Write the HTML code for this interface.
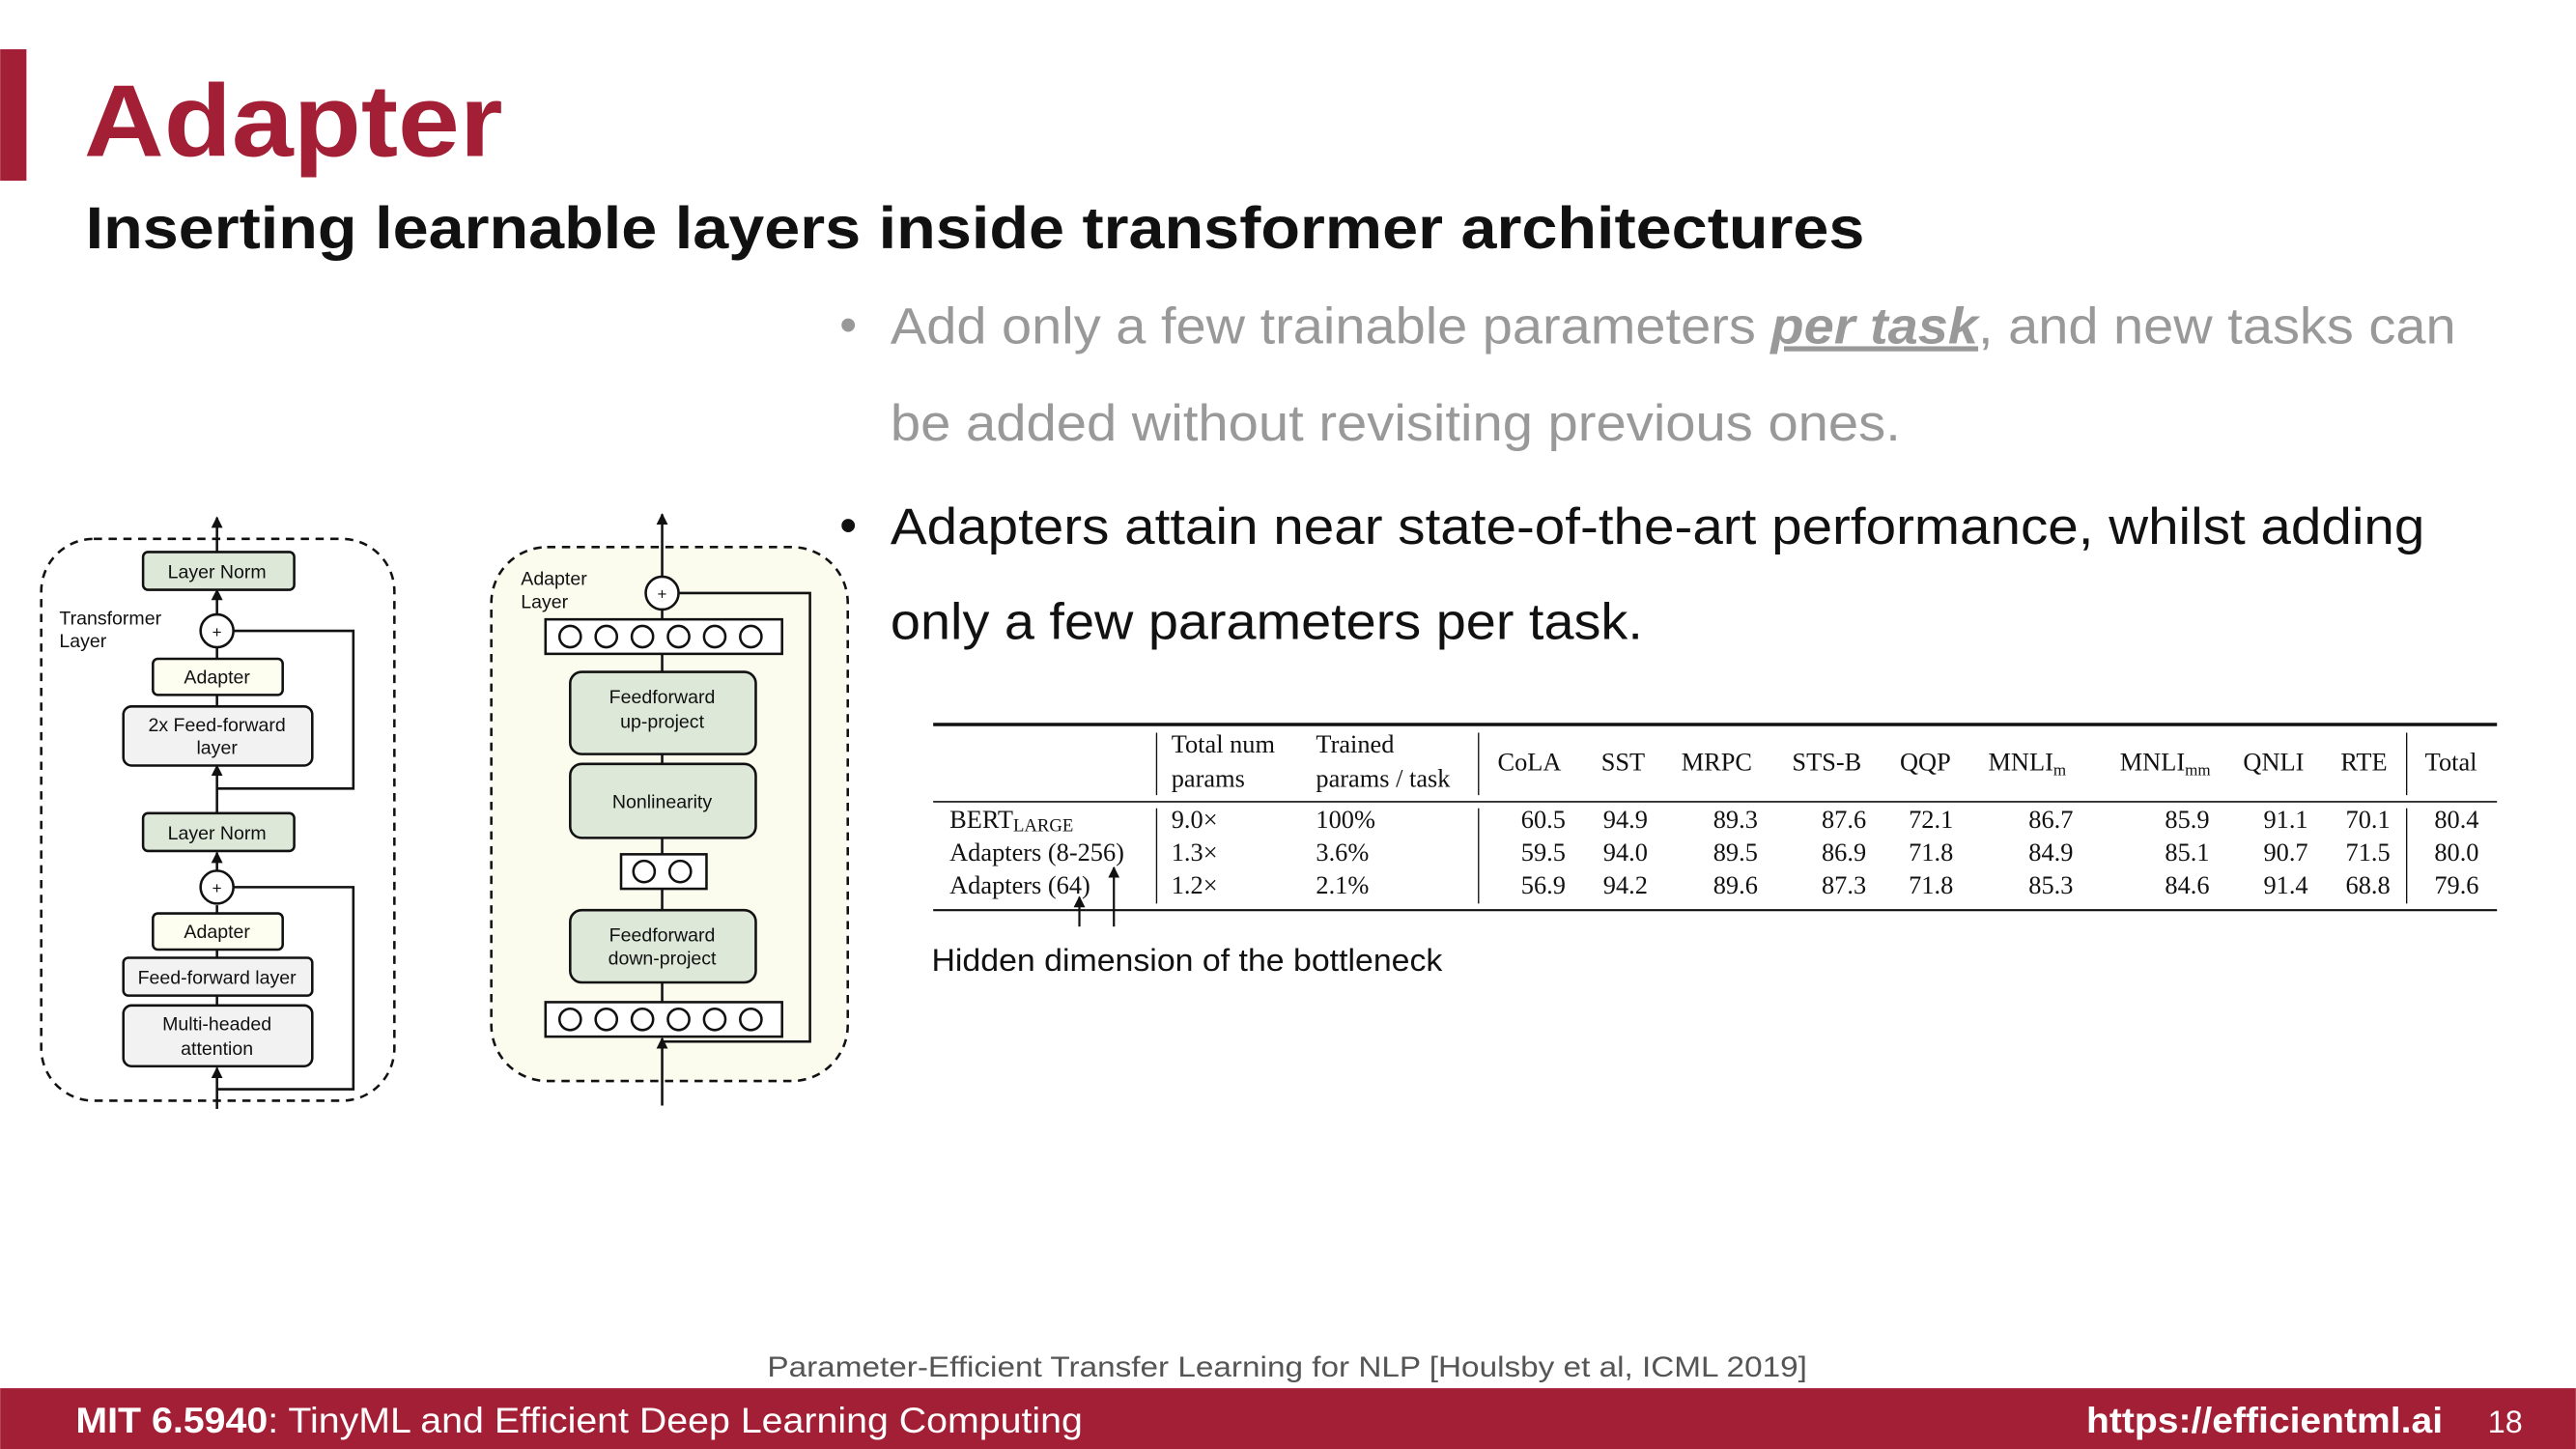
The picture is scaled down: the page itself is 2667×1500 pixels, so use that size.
<!DOCTYPE html>
<html><head><meta charset="utf-8"><style>
html,body{margin:0;padding:0;background:#fff;}
svg{display:block;}
text{font-family:"Liberation Sans",Arial,sans-serif;}
.s,.s text{font-family:"Liberation Serif","Times New Roman",serif;font-size:15.5px;fill:#111;}
.d{font-size:11.5px;fill:#111;}
</style></head><body>
<svg width="2667" height="1500" viewBox="0 0 1568 882" xmlns="http://www.w3.org/2000/svg">
<defs>
<marker id="ah" viewBox="0 0 10 10" refX="9" refY="5" markerWidth="7" markerHeight="7" orient="auto-start-reverse" markerUnits="userSpaceOnUse"><path d="M0,0 L10,5 L0,10 z" fill="#111"/></marker>
</defs>
<rect width="1568" height="882" fill="#fff"/>
<rect x="0" y="30" width="16" height="80" fill="#a31f36"/>
<text x="51" y="95" font-size="62" font-weight="bold" fill="#a31f36" textLength="255" lengthAdjust="spacingAndGlyphs">Adapter</text>
<text x="52" y="151" font-size="36" font-weight="bold" fill="#111" textLength="1083" lengthAdjust="spacingAndGlyphs">Inserting learnable layers inside transformer architectures</text>
<text x="511" y="208" font-size="30" fill="#999">•</text>
<text x="542" y="209" font-size="31" fill="#999" textLength="953" lengthAdjust="spacingAndGlyphs">Add only a few trainable parameters <tspan font-weight="bold" font-style="italic" text-decoration="underline">per task</tspan>, and new tasks can</text>
<text x="542" y="268" font-size="31" fill="#999" textLength="615" lengthAdjust="spacingAndGlyphs">be added without revisiting previous ones.</text>
<text x="511" y="330" font-size="30" fill="#111">•</text>
<text x="542" y="331" font-size="31" fill="#111" textLength="934" lengthAdjust="spacingAndGlyphs">Adapters attain near state-of-the-art performance, whilst adding</text>
<text x="542" y="389" font-size="31" fill="#111" textLength="458" lengthAdjust="spacingAndGlyphs">only a few parameters per task.</text>

<g stroke="#111" stroke-width="1.5" fill="none">
<rect x="25" y="328" width="215" height="342" rx="32" stroke-dasharray="5,4"/>
<line x1="132" y1="675" x2="132" y2="650" marker-end="url(#ah)"/>
<line x1="132" y1="612" x2="132" y2="578"/>
<line x1="132" y1="556" x2="132" y2="551"/>
<line x1="132" y1="530" x2="132" y2="519" marker-end="url(#ah)"/>
<line x1="132" y1="495" x2="132" y2="466" marker-end="url(#ah)" />
<line x1="132" y1="430" x2="132" y2="423"/>
<line x1="132" y1="401" x2="132" y2="394"/>
<line x1="132" y1="374" x2="132" y2="359" marker-end="url(#ah)"/>
<line x1="132" y1="336" x2="132" y2="315" marker-end="url(#ah)"/>
<polyline points="142,384 215,384 215,480 132,480"/>
<polyline points="142,540 215,540 215,663 132,663"/>
</g>
<g stroke="#111" stroke-width="1.5">
<rect x="87" y="336" width="92" height="23" rx="3" fill="#dde8d9"/>
<circle cx="132" cy="384" r="10" fill="#fff"/>
<rect x="93" y="401" width="79" height="22" rx="3" fill="#fdfdf0"/>
<rect x="75" y="430" width="115" height="36" rx="5" fill="#f2f2f2"/>
<rect x="87" y="495" width="92" height="23" rx="3" fill="#dde8d9"/>
<circle cx="132" cy="540" r="10" fill="#fff"/>
<rect x="93" y="556" width="79" height="22" rx="3" fill="#fdfdf0"/>
<rect x="75" y="583" width="115" height="23" rx="3" fill="#f2f2f2"/>
<rect x="75" y="612" width="115" height="37" rx="5" fill="#f2f2f2"/>
</g>
<g class="d" text-anchor="middle">
<text x="132" y="352">Layer Norm</text>
<text x="132" y="388" font-size="10">+</text>
<text x="132" y="416">Adapter</text>
<text x="132" y="445">2x Feed-forward</text>
<text x="132" y="459">layer</text>
<text x="132" y="511">Layer Norm</text>
<text x="132" y="544" font-size="10">+</text>
<text x="132" y="571">Adapter</text>
<text x="132" y="599">Feed-forward layer</text>
<text x="132" y="627">Multi-headed</text>
<text x="132" y="642">attention</text>
</g>
<text class="d" x="36" y="380">Transformer</text>
<text class="d" x="36" y="394">Layer</text>

<rect x="299" y="333" width="217" height="325" rx="34" fill="#fbfcee" stroke="#111" stroke-width="1.5" stroke-dasharray="5,4"/>
<g stroke="#111" stroke-width="1.5" fill="none">
<line x1="403" y1="673" x2="403" y2="632" marker-end="url(#ah)"/>
<line x1="403" y1="610" x2="403" y2="598"/>
<line x1="403" y1="554" x2="403" y2="541"/>
<line x1="403" y1="520" x2="403" y2="510"/>
<line x1="403" y1="465" x2="403" y2="459"/>
<line x1="403" y1="409" x2="403" y2="398"/>
<line x1="403" y1="377" x2="403" y2="371"/>
<line x1="403" y1="351" x2="403" y2="313" marker-end="url(#ah)"/>
<polyline points="413,361 493,361 493,634 403,634"/>
</g>
<g stroke="#111" stroke-width="1.5">
<circle cx="403" cy="361" r="10" fill="#fff"/>
<rect x="332" y="377" width="144" height="21" fill="#fff"/>
<rect x="347" y="409" width="113" height="50" rx="7" fill="#dde8d9"/>
<rect x="347" y="465" width="113" height="45" rx="7" fill="#dde8d9"/>
<rect x="378" y="520" width="52" height="21" fill="#fff"/>
<rect x="347" y="554" width="113" height="44" rx="7" fill="#dde8d9"/>
<rect x="332" y="610" width="144" height="21" fill="#fff"/>
<g fill="#fff">
<circle cx="347" cy="387.5" r="6.5"/><circle cx="369" cy="387.5" r="6.5"/><circle cx="391" cy="387.5" r="6.5"/><circle cx="413" cy="387.5" r="6.5"/><circle cx="435" cy="387.5" r="6.5"/><circle cx="457" cy="387.5" r="6.5"/>
<circle cx="392" cy="530.5" r="6.5"/><circle cx="414" cy="530.5" r="6.5"/>
<circle cx="347" cy="620.5" r="6.5"/><circle cx="369" cy="620.5" r="6.5"/><circle cx="391" cy="620.5" r="6.5"/><circle cx="413" cy="620.5" r="6.5"/><circle cx="435" cy="620.5" r="6.5"/><circle cx="457" cy="620.5" r="6.5"/>
</g>
</g>
<g class="d" text-anchor="middle">
<text x="403" y="365" font-size="10">+</text>
<text x="403" y="428">Feedforward</text>
<text x="403" y="443">up-project</text>
<text x="403" y="492">Nonlinearity</text>
<text x="403" y="573">Feedforward</text>
<text x="403" y="587">down-project</text>
</g>
<text class="d" x="317" y="356">Adapter</text>
<text class="d" x="317" y="370">Layer</text>

<g stroke="#111">
<line x1="568" y1="441" x2="1520" y2="441" stroke-width="2"/>
<line x1="568" y1="488" x2="1520" y2="488" stroke-width="1"/>
<line x1="568" y1="554" x2="1520" y2="554" stroke-width="1.3"/>
<line x1="704" y1="446" x2="704" y2="484" stroke-width="0.8"/>
<line x1="900" y1="446" x2="900" y2="484" stroke-width="0.8"/>
<line x1="1465" y1="446" x2="1465" y2="484" stroke-width="0.8"/>
<line x1="704" y1="492" x2="704" y2="550" stroke-width="0.8"/>
<line x1="900" y1="492" x2="900" y2="550" stroke-width="0.8"/>
<line x1="1465" y1="492" x2="1465" y2="550" stroke-width="0.8"/>
</g>
<g class="s">
<text x="713" y="458">Total num</text>
<text x="713" y="479">params</text>
<text x="801" y="458">Trained</text>
<text x="801" y="479">params / task</text>
<g text-anchor="middle">
<text x="931" y="469">CoLA</text>
<text x="988" y="469">SST</text>
<text x="1045" y="469">MRPC</text>
<text x="1112" y="469">STS-B</text>
<text x="1172" y="469">QQP</text>
<text x="1234" y="469">MNLI<tspan font-size="10" dy="3">m</tspan></text>
<text x="1318" y="469">MNLI<tspan font-size="10" dy="3">mm</tspan></text>
<text x="1384" y="469">QNLI</text>
<text x="1439" y="469">RTE</text>
<text x="1492" y="469">Total</text>
</g>
<text x="578" y="504">BERT<tspan font-size="11" dy="2">LARGE</tspan></text>
<text x="578" y="524">Adapters (8-256)</text>
<text x="578" y="544">Adapters (64)</text>
<text x="713" y="504">9.0×</text><text x="713" y="524">1.3×</text><text x="713" y="544">1.2×</text>
<text x="801" y="504">100%</text><text x="801" y="524">3.6%</text><text x="801" y="544">2.1%</text>
<g text-anchor="end">
<text x="953" y="504">60.5</text><text x="1003" y="504">94.9</text><text x="1070" y="504">89.3</text><text x="1136" y="504">87.6</text><text x="1189" y="504">72.1</text><text x="1262" y="504">86.7</text><text x="1345" y="504">85.9</text><text x="1405" y="504">91.1</text><text x="1455" y="504">70.1</text><text x="1509" y="504">80.4</text>
<text x="953" y="524">59.5</text><text x="1003" y="524">94.0</text><text x="1070" y="524">89.5</text><text x="1136" y="524">86.9</text><text x="1189" y="524">71.8</text><text x="1262" y="524">84.9</text><text x="1345" y="524">85.1</text><text x="1405" y="524">90.7</text><text x="1455" y="524">71.5</text><text x="1509" y="524">80.0</text>
<text x="953" y="544">56.9</text><text x="1003" y="544">94.2</text><text x="1070" y="544">89.6</text><text x="1136" y="544">87.3</text><text x="1189" y="544">71.8</text><text x="1262" y="544">85.3</text><text x="1345" y="544">84.6</text><text x="1405" y="544">91.4</text><text x="1455" y="544">68.8</text><text x="1509" y="544">79.6</text>
</g>
</g>
<g stroke="#111" stroke-width="1.3">
<line x1="657" y1="564" x2="657" y2="546" marker-end="url(#ah)"/>
<line x1="678" y1="564" x2="678" y2="528" marker-end="url(#ah)"/>
</g>
<text x="567" y="591" font-size="19" fill="#111" textLength="311" lengthAdjust="spacingAndGlyphs">Hidden dimension of the bottleneck</text>

<text x="467" y="838" font-size="17.5" fill="#555" textLength="633" lengthAdjust="spacingAndGlyphs">Parameter-Efficient Transfer Learning for NLP [Houlsby et al, ICML 2019]</text>
<rect x="0" y="845" width="1568" height="37" fill="#a31f36"/>
<text x="46" y="872" font-size="22" fill="#fff" textLength="613" lengthAdjust="spacingAndGlyphs"><tspan font-weight="bold">MIT 6.5940</tspan>: TinyML and Efficient Deep Learning Computing</text>
<text x="1270" y="872" font-size="22" font-weight="bold" fill="#fff" textLength="217" lengthAdjust="spacingAndGlyphs">https://efficientml.ai</text>
<text x="1525" y="872" font-size="19" fill="#fff" text-anchor="middle">18</text>
</svg>
</body></html>
